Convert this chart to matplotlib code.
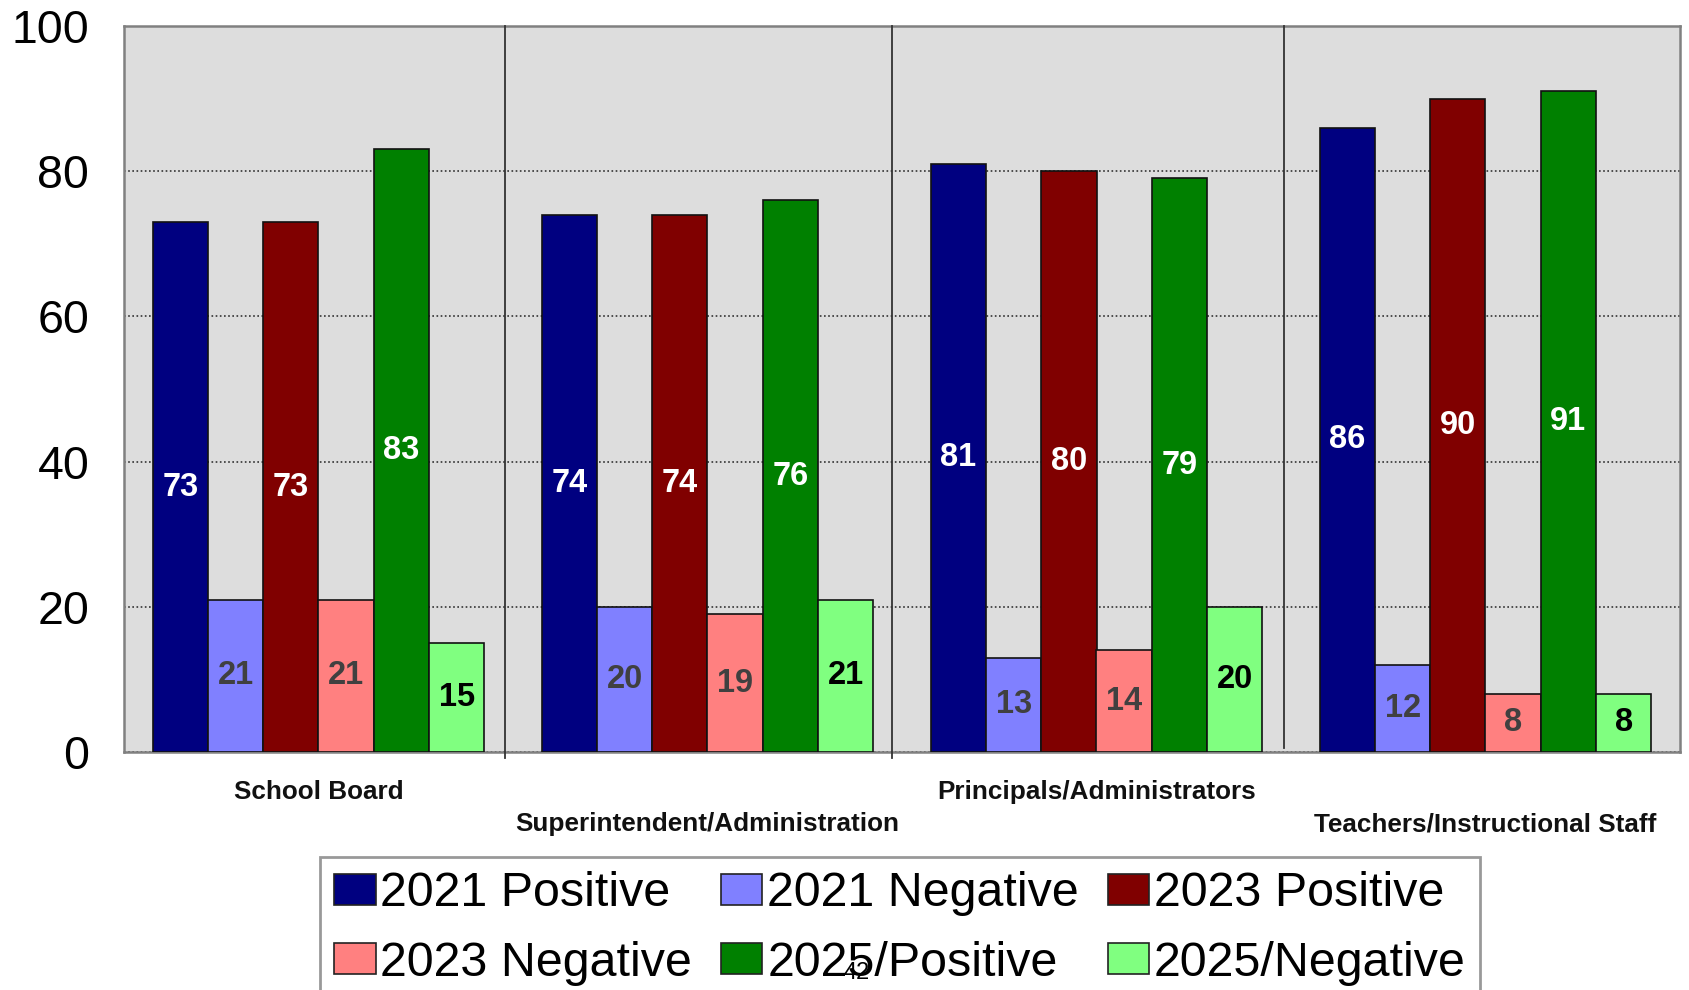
import matplotlib
matplotlib.use("Agg")
import matplotlib.pyplot as plt
import matplotlib.transforms as mtransforms
from matplotlib.patches import Patch

plt.rcParams['font.family'] = ['Liberation Sans', 'DejaVu Sans']

categories = ["School Board", "Superintendent/Administration",
              "Principals/Administrators", "Teachers/Instructional Staff"]
series_names = ["2021 Positive", "2021 Negative", "2023 Positive",
                "2023 Negative", "2025/Positive", "2025/Negative"]
pos_2021 = [73, 74, 81, 86]
neg_2021 = [21, 20, 13, 12]
pos_2023 = [73, 74, 80, 90]
neg_2023 = [21, 19, 14, 8]
pos_2025 = [83, 76, 79, 91]
neg_2025 = [15, 21, 20, 8]
series_values = [pos_2021, neg_2021, pos_2023, neg_2023, pos_2025, neg_2025]
yticks = [0, 20, 40, 60, 80, 100]

colors = ["#000080", "#8080FF", "#800000", "#FF8080", "#008000", "#80FF80"]
label_colors = ["white", "#404040", "white", "#404040", "white", "black"]

fig = plt.figure(figsize=(16.9, 9.9), dpi=100)
ax = fig.add_axes([124/1690, 1-752/990, (1680-124)/1690, (752-26)/990])
ax.set_facecolor("#DDDDDD")

w = 0.142
for j, (vals, c, lc) in enumerate(zip(series_values, colors, label_colors)):
    xs = [i + (j - 2.5) * w for i in range(len(categories))]
    ax.bar(xs, vals, width=w, color=c, edgecolor="#111111", linewidth=1.2, zorder=3)
    for x, v in zip(xs, vals):
        ax.text(x, v / 2, str(v), ha="center", va="center", color=lc,
                fontsize=23.5, fontweight="bold", zorder=4)

ax.set_xlim(-0.5, len(categories) - 0.5)
ax.set_ylim(0, 100)
ax.set_yticks(yticks)
ax.set_yticklabels([str(t) for t in yticks], fontsize=33.5)
ax.tick_params(axis="y", length=0, pad=25)
ax.set_xticks([])
ax.yaxis.grid(True, linestyle=(0, (1, 1.5)), color="#333333", linewidth=1.2, zorder=1)
ax.set_axisbelow(True)
for s in ax.spines.values():
    s.set_color("#808080")
    s.set_linewidth(1.8)

# group separators
for k, sx in enumerate([0.480, 1.474, 2.481]):
    y0 = -0.8 if k < 2 else 0.5
    ax.plot([sx, sx], [y0, 100], color="#333333", linewidth=1.3, clip_on=False, zorder=5)

# category labels (staggered)
trans = mtransforms.blended_transform_factory(ax.transData, fig.transFigure)
for i, cat in enumerate(categories):
    yy = 1 - 792/990 if i % 2 == 0 else 1 - 824/990
    ax.text(i, yy, cat, transform=trans, ha="center", va="center",
            fontsize=18.8, fontweight="bold", color="#111111")

handles = [Patch(facecolor=c, edgecolor="#222222", linewidth=1.2) for c in colors]
order = [0, 3, 1, 4, 2, 5]
leg = fig.legend([handles[k] for k in order], [series_names[k] for k in order],
                 loc="upper left", bbox_to_anchor=(320/1690, 1-857/990),
                 ncol=3, fontsize=34.8, frameon=True, fancybox=False,
                 handlelength=0.85, handleheight=0.62, handletextpad=0.1,
                 columnspacing=0.6, borderpad=0.3, labelspacing=0.5,
                 borderaxespad=0)
leg.get_frame().set_edgecolor("#808080")
leg.get_frame().set_linewidth(2)

fig.text(857/1690, 1-973/990, "42", ha="center", va="center", fontsize=17,
         family=["Liberation Sans Narrow", "Liberation Sans"], zorder=10)

fig.savefig("out.png", dpi=100)
